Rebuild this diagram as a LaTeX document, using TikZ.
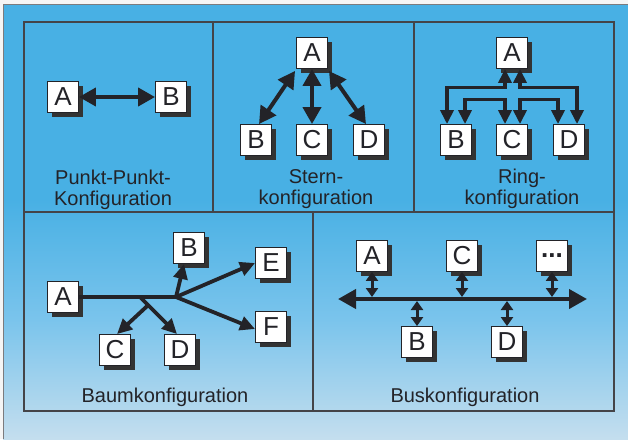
\documentclass[tikz,border=0pt]{standalone}
\usepackage{fontspec}
\setmainfont{Liberation Sans}
\usetikzlibrary{arrows.meta,shadows,calc}
\definecolor{bgblue}{RGB}{72,176,228}
\definecolor{bgmid}{RGB}{122,196,236}
\definecolor{bgpale}{RGB}{196,222,238}
\definecolor{ink}{RGB}{35,35,40}
\tikzset{
  box/.style={draw=ink, line width=0.9pt, fill=white, minimum size=31pt, inner sep=0pt,
    font=\fontsize{26}{26}\selectfont, text=ink,
    drop shadow={shadow xshift=4.5pt, shadow yshift=-4.5pt, fill=black!80, opacity=1}},
  lab/.style={align=center, text=ink, font=\fontsize{20}{21}\selectfont, inner sep=0pt},
  frame/.style={draw=ink!85, line width=1.3pt},
  big/.style={draw=ink, line width=4pt, {Triangle[length=17pt,width=18pt]}-{Triangle[length=17pt,width=18pt]}},
  ringarr/.style={draw=ink, line width=3.6pt, {Triangle[length=14pt,width=13pt]}-{Triangle[length=14pt,width=13pt]}},
  one/.style={draw=ink, line width=3.8pt, -{Triangle[length=15pt,width=14pt]}},
  plain/.style={draw=ink, line width=3.8pt},
  buss/.style={draw=ink, line width=4pt, {Triangle[length=18pt,width=19pt]}-{Triangle[length=18pt,width=19pt]}},
  small/.style={draw=ink, line width=3pt, {Triangle[length=9pt,width=12pt]}-{Triangle[length=9pt,width=12pt]}},
}
\begin{document}
\begin{tikzpicture}[x=1pt,y=-1pt]
\useasboundingbox (0,0) rectangle (628,439);
% background
\fill[white!92!gray] (0,0) rectangle (628,439);
\fill[bgblue] (3,4) rectangle (628,200);
\shade[top color=bgblue, bottom color=bgpale, middle color=bgmid] (3,199.5) rectangle (628,439);
\draw[ink!60, line width=1pt] (3,439) -- (3,4) -- (628,4);
% frames
\draw[frame] (24,22) rectangle (614,411);
\draw[frame] (24,212) -- (614,212);
\draw[frame] (213,22) -- (213,212);
\draw[frame] (414,22) -- (414,212);
\draw[frame] (313,212) -- (313,411);

% Panel 1: Punkt-Punkt
\node[box] (A1) at (63,97) {A};
\node[box] (B1) at (171,97) {B};
\draw[big] (A1.east) -- (B1.west);
\node[lab] (L1) at (113,190) {Punkt-Punkt-\\Konfiguration};

% Panel 2: Stern
\node[box] (A2) at (312,53) {A};
\node[box] (B2) at (256,140) {B};
\node[box] (C2) at (312,140) {C};
\node[box] (D2) at (369,140) {D};
\draw[big] ([xshift=-1pt,yshift=-2pt]A2.south west) -- ([xshift=3pt]B2.north);
\draw[big] (A2.south) -- (C2.north);
\draw[big] ([xshift=1pt,yshift=-2pt]A2.south east) -- ([xshift=-3pt]D2.north);
\node[lab] (L2) at (316,189) {Stern-\\konfiguration};

% Panel 3: Ring
\node[box] (A3) at (512,53) {A};
\node[box] (B3) at (456,140) {B};
\node[box] (C3) at (512,140) {C};
\node[box] (D3) at (569,140) {D};
\draw[ringarr] ([xshift=-7pt]A3.south) -- ++(0,18.5) -| ([xshift=-9pt]B3.north);
\draw[ringarr] ([xshift=8pt]A3.south) -- ++(0,18.5) -| ([xshift=8pt]D3.north);
\draw[ringarr] ([xshift=9pt]B3.north) -- ++(0,-24.5) -| ([xshift=-7pt]C3.north);
\draw[ringarr] ([xshift=8pt]C3.north) -- ++(0,-24.5) -| ([xshift=-11pt]D3.north);
\node[lab] (L3) at (522,189) {Ring-\\konfiguration};

% Panel 4: Baum
\node[box] (A4) at (63,297) {A};
\node[box] (B4) at (189,248) {B};
\node[box] (E4) at (271,263) {E};
\node[box] (F4) at (271,327) {F};
\node[box] (C4) at (115,350) {C};
\node[box] (D4) at (180,350) {D};
\coordinate (J) at (176,297);
\coordinate (K) at (140,297);
\draw[plain] (A4.east) -- (J);
\draw[one] (J) -- ([xshift=-5pt]B4.south);
\draw[one] (J) -- (E4.west);
\draw[one] (J) -- ([yshift=-2pt]F4.west);
\draw[one] (K) -- ([xshift=-3pt]D4.north);
\coordinate (Lc) at ($(K)!0.22!([xshift=-3pt]D4.north)$);
\draw[one] (Lc) -- ([xshift=2pt]C4.north);
\node[lab] (L4) at (165,397) {Baumkonfiguration};

% Panel 5: Bus
\coordinate (busL) at (338,299);
\coordinate (busR) at (587,299);
\draw[buss] (busL) -- (busR);
\node[box] (A5) at (372,256) {A};
\node[box] (C5) at (462,256) {C};
\node[box] (X5) at (552,256) {\textbf{...}};
\node[box] (B5) at (417,342) {B};
\node[box] (D5) at (507,342) {D};
\draw[small] (A5.south) -- ([yshift=2pt]A5.south |- busL);
\draw[small] (C5.south) -- ([yshift=2pt]C5.south |- busL);
\draw[small] (X5.south) -- ([yshift=2pt]X5.south |- busL);
\draw[small] (B5.north) -- ([yshift=-2pt]B5.north |- busL);
\draw[small] (D5.north) -- ([yshift=-2pt]D5.north |- busL);
\node[lab] (L5) at (465,397) {Buskonfiguration};
\end{tikzpicture}
\end{document}
